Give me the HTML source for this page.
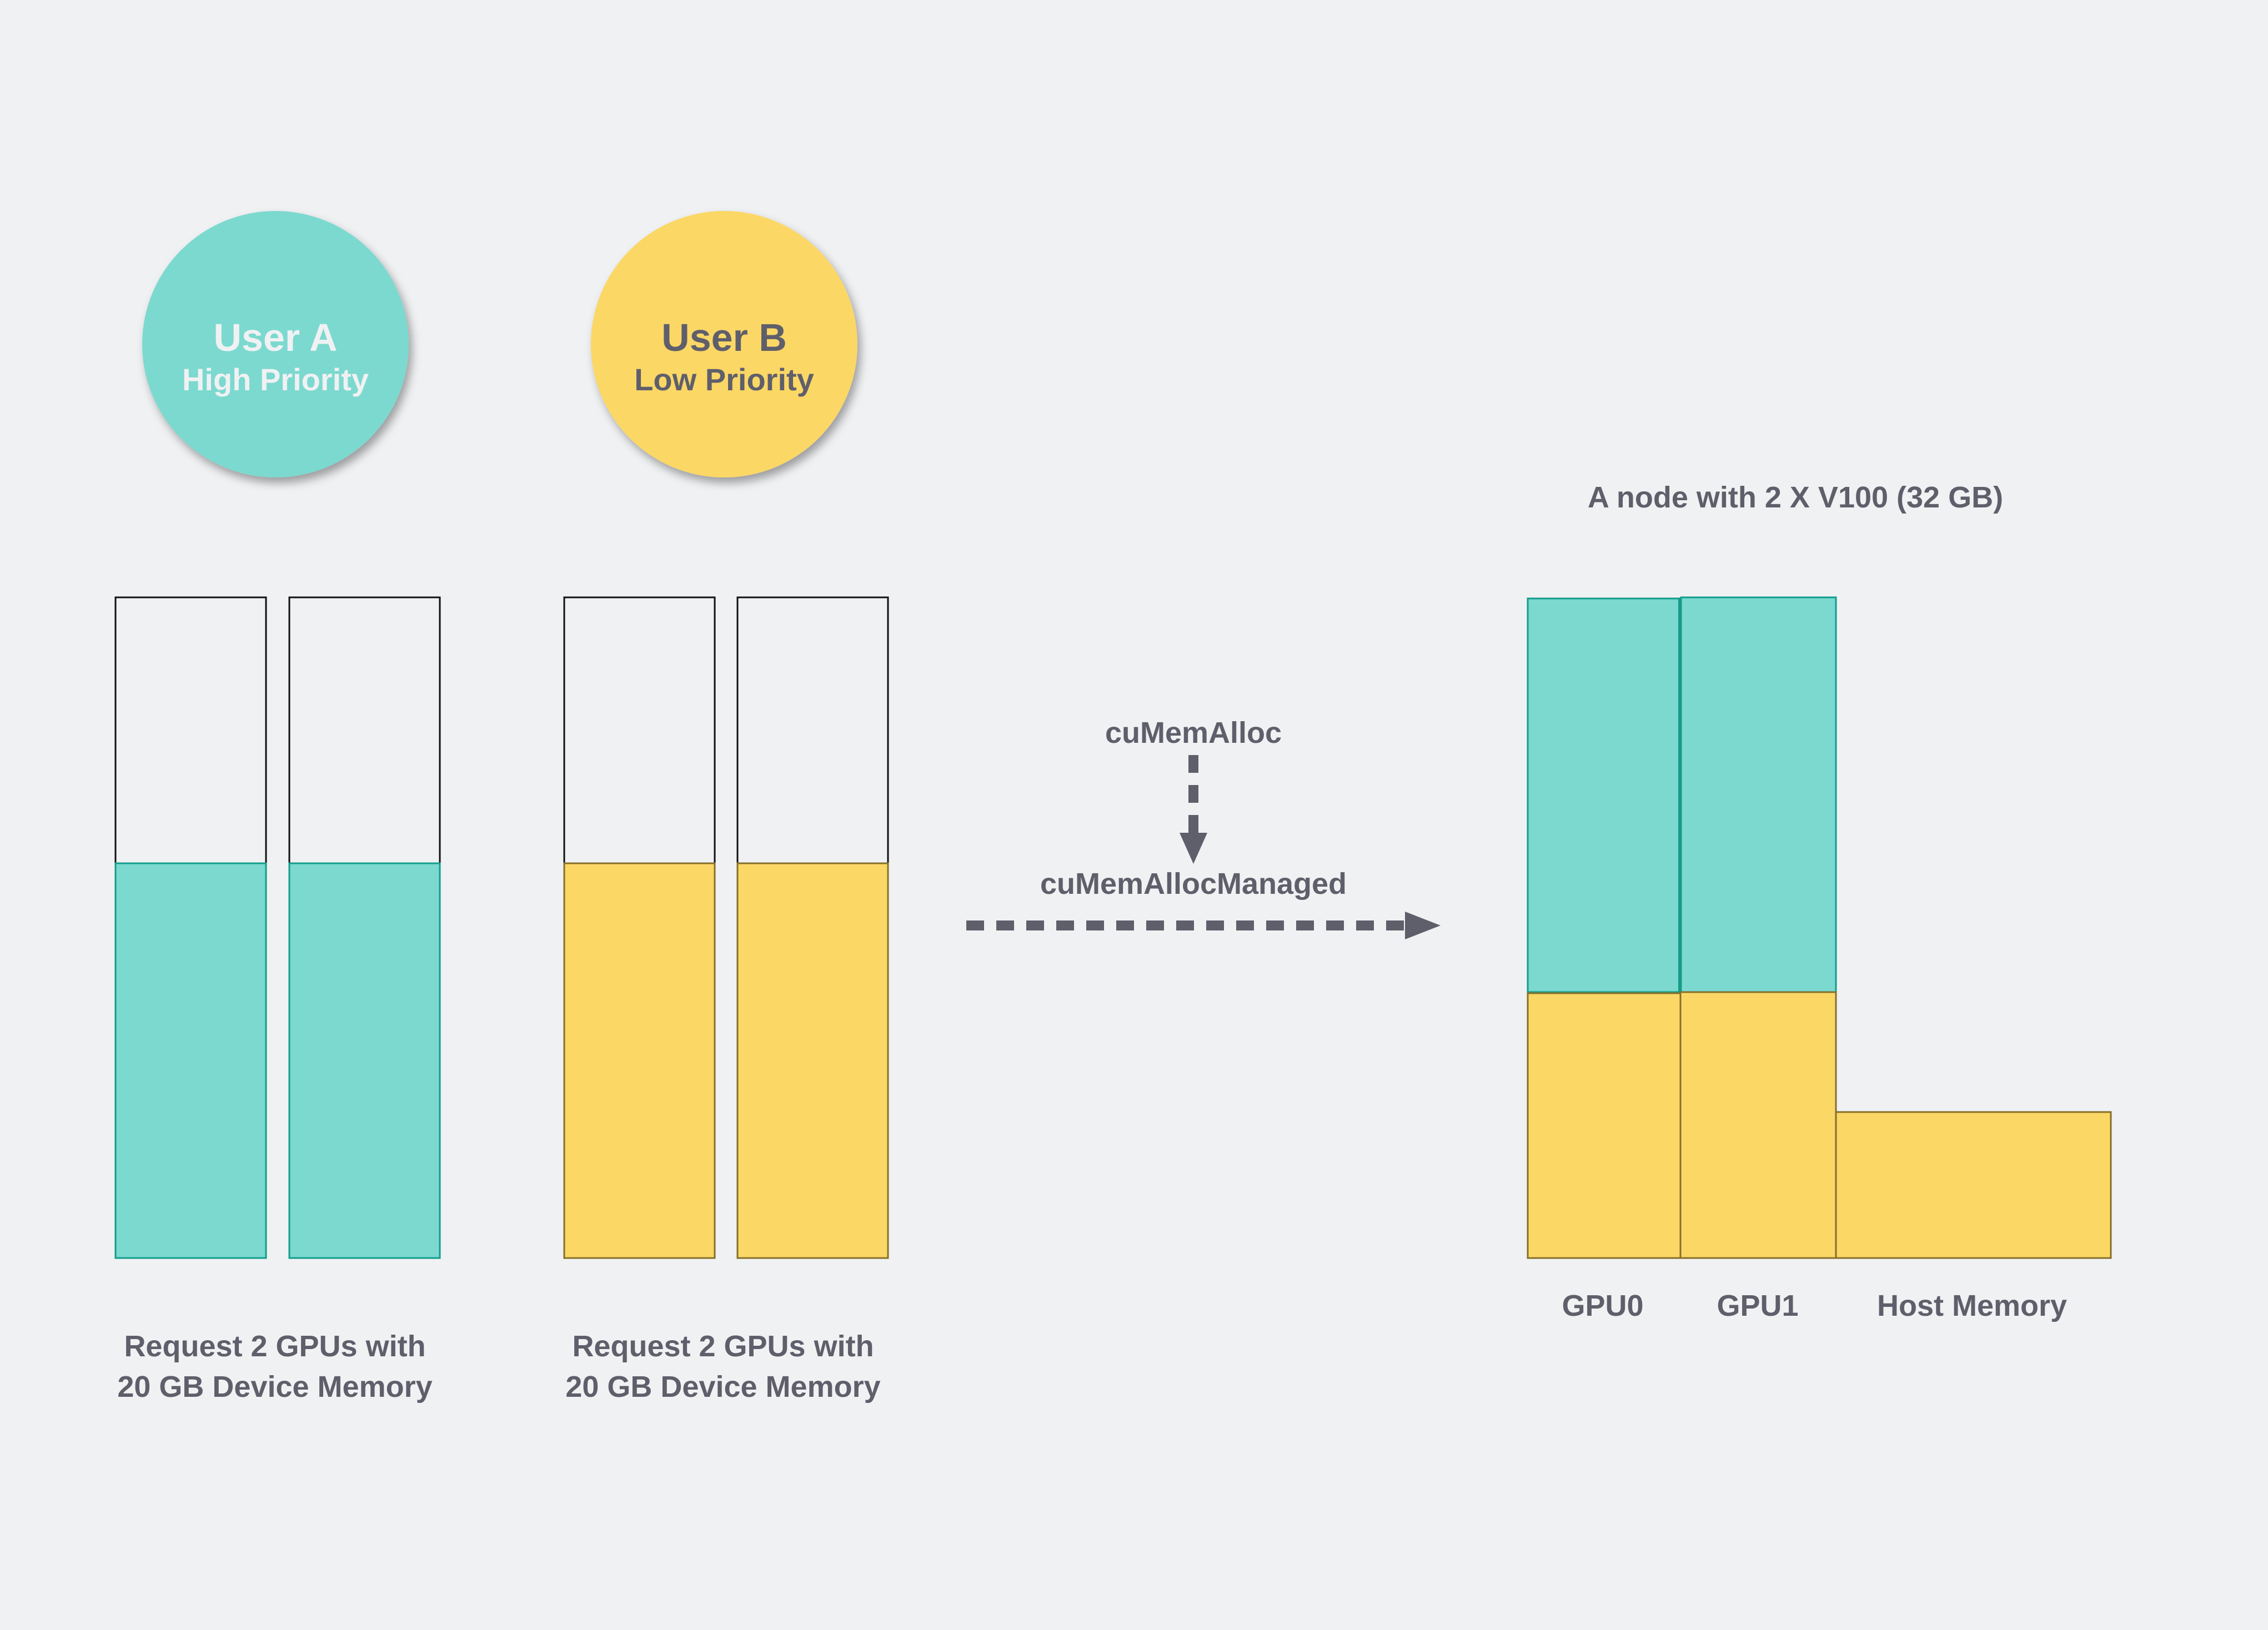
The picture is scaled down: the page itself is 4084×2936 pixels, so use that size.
<!DOCTYPE html>
<html><head><meta charset="utf-8"><style>
html,body{margin:0;padding:0;background:#f0f1f3;}
svg{display:block;}
text{font-family:"Liberation Sans",sans-serif;font-weight:bold;}
</style></head><body>
<svg width="4084" height="2936" viewBox="0 0 4084 2936">
<defs>
<filter id="sh" x="-20%" y="-20%" width="140%" height="140%"><feDropShadow dx="6" dy="10" stdDeviation="8" flood-color="#000" flood-opacity="0.35"/></filter>
</defs>
<rect width="4084" height="2936" fill="#f0f1f3"/>
<g>
<ellipse cx="496" cy="620" rx="240" ry="240" fill="#7bd9cf" filter="url(#sh)"/>
<text x="496" y="632" font-size="70" fill="#f0f1f3" text-anchor="middle">User A</text>
<text x="496" y="703" font-size="56" fill="#f0f1f3" text-anchor="middle">High Priority</text>
</g>
<g>
<ellipse cx="1304" cy="620" rx="240" ry="240" fill="#fbd766" filter="url(#sh)"/>
<text x="1304" y="632" font-size="70" fill="#5f5f6b" text-anchor="middle">User B</text>
<text x="1304" y="703" font-size="56" fill="#5f5f6b" text-anchor="middle">Low Priority</text>
</g>
<g>
<rect x="208" y="1076" width="271" height="479" fill="none" stroke="#111" stroke-width="3"/>
<rect x="208" y="1555" width="271" height="711" fill="#7bd9cf" stroke="#129d8a" stroke-width="3"/>
<rect x="521" y="1076" width="271" height="479" fill="none" stroke="#111" stroke-width="3"/>
<rect x="521" y="1555" width="271" height="711" fill="#7bd9cf" stroke="#129d8a" stroke-width="3"/>
</g>
<g>
<rect x="1016" y="1076" width="271" height="479" fill="none" stroke="#111" stroke-width="3"/>
<rect x="1016" y="1555" width="271" height="711" fill="#fbd766" stroke="#85702a" stroke-width="3"/>
<rect x="1328" y="1076" width="271" height="479" fill="none" stroke="#111" stroke-width="3"/>
<rect x="1328" y="1555" width="271" height="711" fill="#fbd766" stroke="#85702a" stroke-width="3"/>
</g>
<g font-size="54" fill="#5f5f6b" text-anchor="middle">
<text x="495" y="2443">Request 2 GPUs with</text>
<text x="495" y="2516">20 GB Device Memory</text>
<text x="1302" y="2443">Request 2 GPUs with</text>
<text x="1302" y="2516">20 GB Device Memory</text>
<text x="2149" y="1338">cuMemAlloc</text>
<text x="2149" y="1610">cuMemAllocManaged</text>
<text x="3233" y="914">A node with 2 X V100 (32 GB)</text>
<text x="2886" y="2370">GPU0</text>
<text x="3165" y="2370">GPU1</text>
<text x="3551" y="2370">Host Memory</text>
</g>
<g>
<line x1="2149" y1="1360" x2="2149" y2="1510" stroke="#5f5f6b" stroke-width="18" stroke-dasharray="32,22"/>
<polygon points="2124,1500 2174,1500 2149,1556" fill="#5f5f6b"/>
</g>
<g>
<line x1="1740" y1="1667" x2="2540" y2="1667" stroke="#5f5f6b" stroke-width="18" stroke-dasharray="32,22"/>
<polygon points="2530,1642 2530,1692 2594,1667" fill="#5f5f6b"/>
</g>
<g>
<rect x="2751" y="1078" width="273" height="709" fill="#7bd9cf" stroke="#129d8a" stroke-width="3"/>
<rect x="3027" y="1076" width="279" height="711" fill="#7bd9cf" stroke="#129d8a" stroke-width="3"/>
<line x1="3025" y1="1078" x2="3025" y2="1787" stroke="#129d8a" stroke-width="6"/>
<rect x="2751" y="1789" width="275" height="477" fill="#fbd766" stroke="#85702a" stroke-width="3"/>
<rect x="3026" y="1787" width="280" height="479" fill="#fbd766" stroke="#85702a" stroke-width="3"/>
<rect x="3306" y="2003" width="495" height="263" fill="#fbd766" stroke="#85702a" stroke-width="3"/>
</g>
</svg>
</body></html>
